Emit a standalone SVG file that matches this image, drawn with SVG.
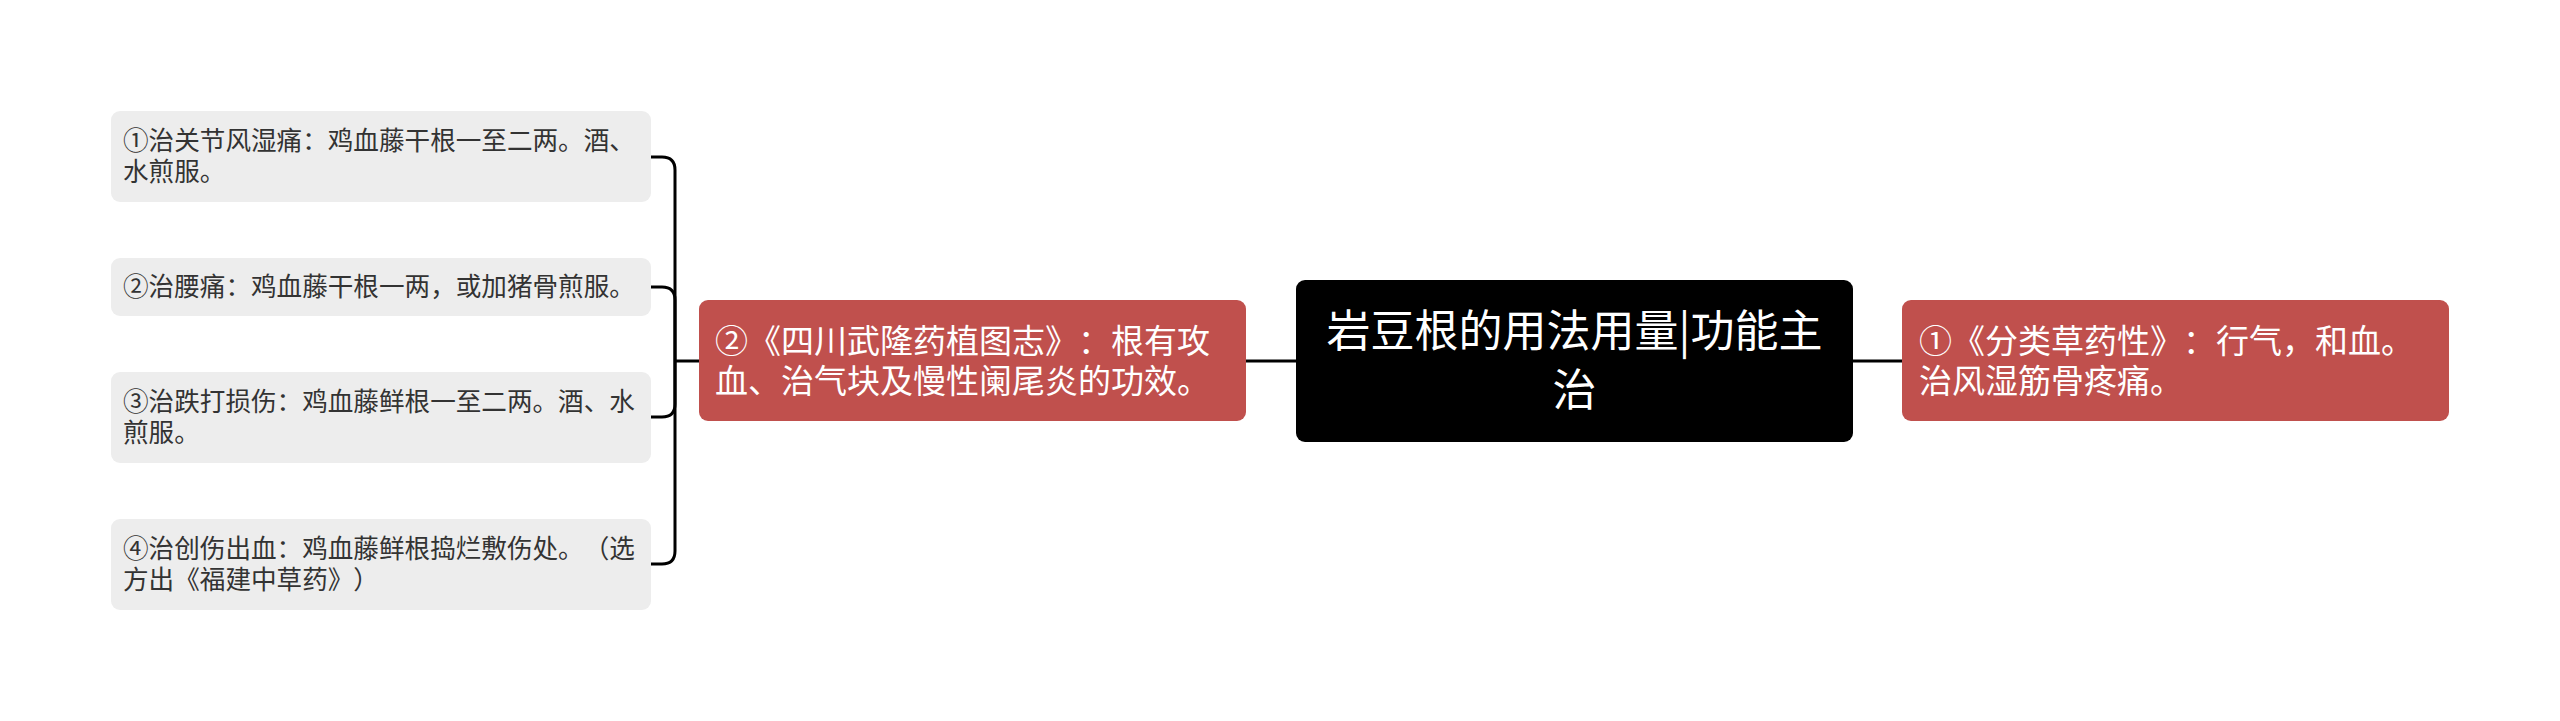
<svg xmlns="http://www.w3.org/2000/svg" width="2560" height="721" viewBox="0 0 2560 721">
<style>
text{text-spacing-trim:space-all;font-kerning:none}
.bg{fill:#ffffff}
.leaf rect{fill:#ededed}
.leaf text{font-family:"Noto Sans CJK SC","Noto Sans",sans-serif;font-size:25.6px;fill:#333333}
.sub rect{fill:#c0504d}
.sub text{font-family:"Noto Sans CJK SC","Noto Sans",sans-serif;font-size:33px;fill:#ffffff}
.root rect{fill:#000000}
.root text{font-family:"Noto Sans CJK SC","Noto Sans",sans-serif;font-size:44px;fill:#ffffff;text-anchor:middle}
.conn path{fill:none;stroke:#000000;stroke-width:3;stroke-linecap:butt}
</style>
<rect class="bg" x="0" y="0" width="2560" height="721"/>
<g id="connectors" class="conn">
<path d="M1296 361H1246"/>
<path d="M1853 361H1902"/>
<path d="M699 361H675"/>
<path d="M651 157H662Q675 157 675 170V361"/>
<path d="M651 287H662Q675 287 675 300V361"/>
<path d="M651 417H662Q675 417 675 404V361"/>
<path d="M651 564H662Q675 564 675 551V361"/>
</g>
<g id="root" class="root">
<rect x="1296" y="280" width="557" height="162" rx="9"/>
<text x="1574.5" y="347">岩豆根的用法用量|功能主</text>
<text x="1574.5" y="406">治</text>
</g>
<g id="left-main" class="sub">
<rect x="699" y="300" width="547" height="121" rx="9"/>
<text x="715" y="353">②《四川武隆药植图志》：根有攻</text>
<text x="715" y="393">血、治气块及慢性阑尾炎的功效。</text>
</g>
<g id="right-main" class="sub">
<rect x="1902" y="300" width="547" height="121" rx="9"/>
<text x="1919" y="353">①《分类草药性》：行气，和血。</text>
<text x="1919" y="393">治风湿筋骨疼痛。</text>
</g>
<g id="leaf1" class="leaf">
<rect x="111" y="111" width="540" height="91" rx="9"/>
<text x="123" y="150">①治关节风湿痛：鸡血藤干根一至二两。酒、</text>
<text x="123" y="181">水煎服。</text>
</g>
<g id="leaf2" class="leaf">
<rect x="111" y="258" width="540" height="58" rx="9"/>
<text x="123" y="296">②治腰痛：鸡血藤干根一两，或加猪骨煎服。</text>
</g>
<g id="leaf3" class="leaf">
<rect x="111" y="372" width="540" height="91" rx="9"/>
<text x="123" y="411">③治跌打损伤：鸡血藤鲜根一至二两。酒、水</text>
<text x="123" y="442">煎服。</text>
</g>
<g id="leaf4" class="leaf">
<rect x="111" y="519" width="540" height="91" rx="9"/>
<text x="123" y="558">④治创伤出血：鸡血藤鲜根捣烂敷伤处。（选</text>
<text x="123" y="589">方出《福建中草药》）</text>
</g>
</svg>
